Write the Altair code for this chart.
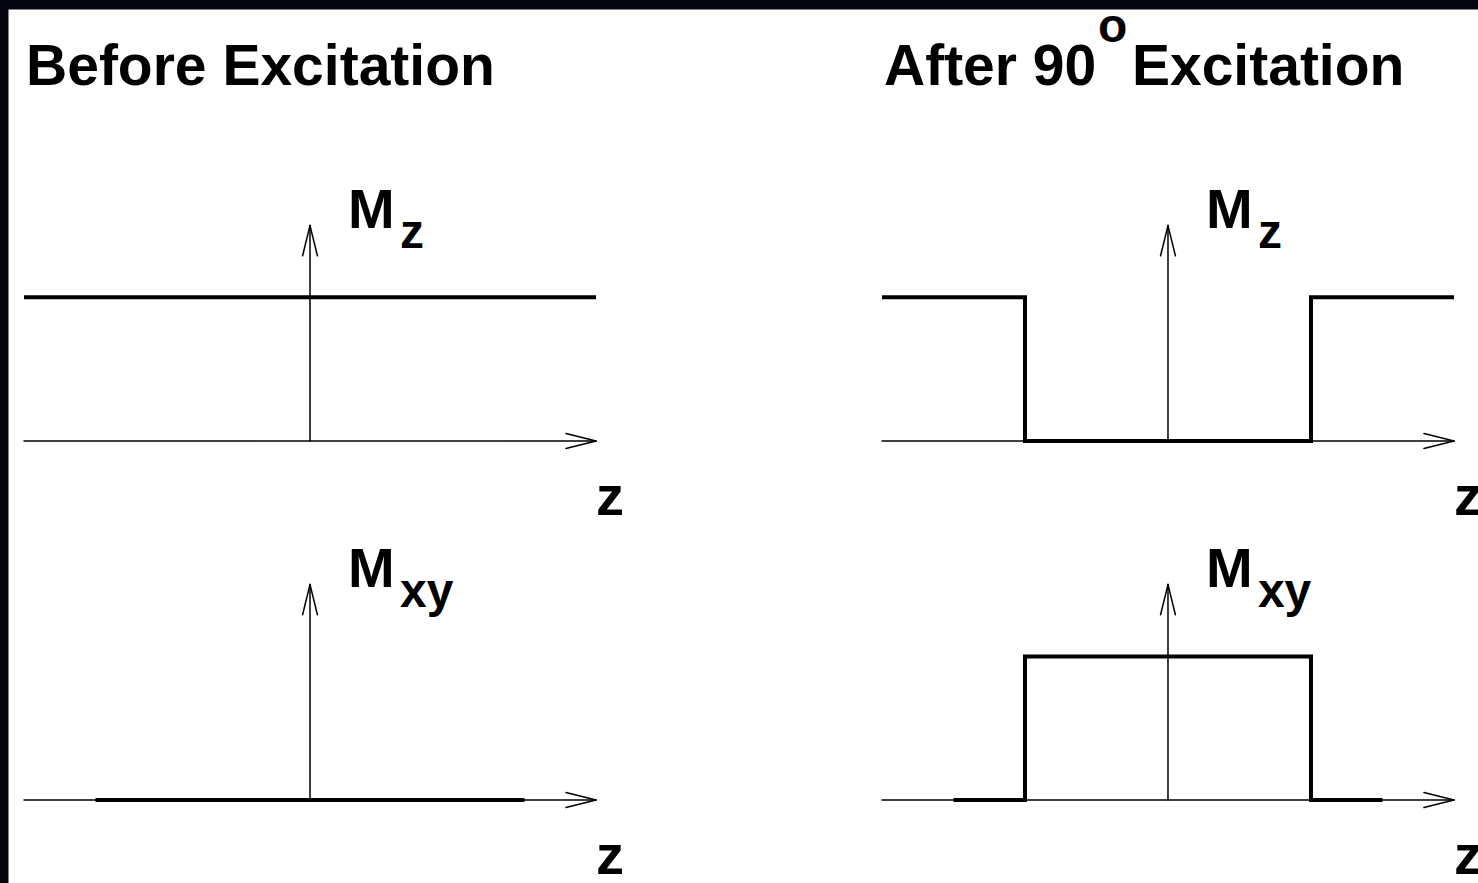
import altair as alt
import pandas as pd

# Magnetisation profiles along z, in units of the slab half-width (slab edges at z = +/-1)
before_mz_z = [-2.0, 2.0]
before_mz_m = [1.0, 1.0]
before_mxy_z = [-1.5, 1.5]
before_mxy_m = [0.0, 0.0]
after_mz_z = [-2.0, -1.0, -1.0, 1.0, 1.0, 2.0]
after_mz_m = [1.0, 1.0, 0.0, 0.0, 1.0, 1.0]
after_mxy_z = [-1.5, -1.0, -1.0, 1.0, 1.0, 1.5]
after_mxy_m = [0.0, 0.0, 1.0, 1.0, 0.0, 0.0]

# Axis extents for every small plot
z_axis = [-2.0, 2.0]
m_axis_top = 1.5

# Text
column_titles = ["Before Excitation", "After 90"]
title_tail = ["", "Excitation"]
degree_mark = "o"
row_subscripts = ["z", "xy"]
axis_name = "z"

# Placement of the four small plots on a shared canvas (data units)
col_offset = [0.0, 6.0]
row_offset = [0.0, -2.5]

HEAD_LEN = 0.21   # arrowhead length
HEAD_HALF = 0.052  # arrowhead half-width

profiles = [
    (0, 0, before_mz_z, before_mz_m),
    (0, 1, before_mxy_z, before_mxy_m),
    (1, 0, after_mz_z, after_mz_m),
    (1, 1, after_mxy_z, after_mxy_m),
]

prof_rows = []
for k, (c, r, zs, ms) in enumerate(profiles):
    for i, (z, m) in enumerate(zip(zs, ms)):
        prof_rows.append({"curve": k, "seq": i,
                          "x": z + col_offset[c], "y": m + row_offset[r]})
prof_df = pd.DataFrame(prof_rows)

seg_rows = []
for c in range(2):
    for r in range(2):
        ox, oy = col_offset[c], row_offset[r]
        z0, z1 = z_axis
        # z axis with open arrowhead
        seg_rows.append((z0 + ox, oy, z1 + ox, oy))
        seg_rows.append((z1 + ox, oy, z1 - HEAD_LEN + ox, oy + HEAD_HALF))
        seg_rows.append((z1 + ox, oy, z1 - HEAD_LEN + ox, oy - HEAD_HALF))
        # magnetisation axis with open arrowhead
        seg_rows.append((ox, oy, ox, m_axis_top + oy))
        seg_rows.append((ox, m_axis_top + oy, ox - HEAD_HALF, m_axis_top - HEAD_LEN + oy))
        seg_rows.append((ox, m_axis_top + oy, ox + HEAD_HALF, m_axis_top - HEAD_LEN + oy))
seg_df = pd.DataFrame(seg_rows, columns=["x", "y", "x2", "y2"])

title_df = pd.DataFrame(
    [{"x": z_axis[0] + col_offset[c], "y": 2.48, "t": column_titles[c]} for c in range(2)]
    + [{"x": -0.266 + col_offset[1], "y": 2.48, "t": title_tail[1]}]
)
deg_df = pd.DataFrame([{"x": -0.49 + col_offset[1], "y": 2.78, "t": degree_mark}])
m_df = pd.DataFrame([{"x": 0.266 + col_offset[c], "y": 1.483 + row_offset[r], "t": "M"}
                     for c in range(2) for r in range(2)])
sub_df = pd.DataFrame([{"x": 0.629 + col_offset[c], "y": 1.344 + row_offset[r],
                        "t": row_subscripts[r]} for c in range(2) for r in range(2)])
zlab_df = pd.DataFrame([{"x": z_axis[1] + col_offset[c], "y": -0.515 + row_offset[r],
                         "t": axis_name} for c in range(2) for r in range(2)])

xs = alt.Scale(domain=[-2.112, 8.168], nice=False, zero=False)
ys = alt.Scale(domain=[-3.078, 3.008], nice=False, zero=False)
X = alt.X("x:Q", scale=xs, axis=None)
Y = alt.Y("y:Q", scale=ys, axis=None)

axes = alt.Chart(seg_df).mark_rule(color="black", strokeWidth=1.5, strokeCap="round").encode(
    x=X, y=Y, x2="x2:Q", y2="y2:Q"
)

curves = alt.Chart(prof_df).mark_line(
    color="black", strokeWidth=4, strokeJoin="miter", strokeCap="butt"
).encode(x=X, y=Y, detail="curve:N", order="seq:Q")


def text_layer(df, size, dx=0):
    return alt.Chart(df).mark_text(
        font="Liberation Sans", fontWeight="bold", fontSize=size, color="black",
        align="left", baseline="alphabetic", dx=dx
    ).encode(x=X, y=Y, text="t:N")


chart = alt.layer(
    axes,
    curves,
    text_layer(title_df, 57, dx=2),
    text_layer(deg_df, 48),
    text_layer(m_df, 56),
    text_layer(sub_df, 48),
    text_layer(zlab_df, 56),
).properties(
    width=1470, height=874,
    padding={"left": 8, "top": 9, "right": 0, "bottom": 0},
    autosize=alt.AutoSizeParams(type="none"),
    background="#05050f",
).configure_view(fill="white", stroke="transparent")

chart.save("out.html", embed_options={"renderer": "svg", "actions": False})
